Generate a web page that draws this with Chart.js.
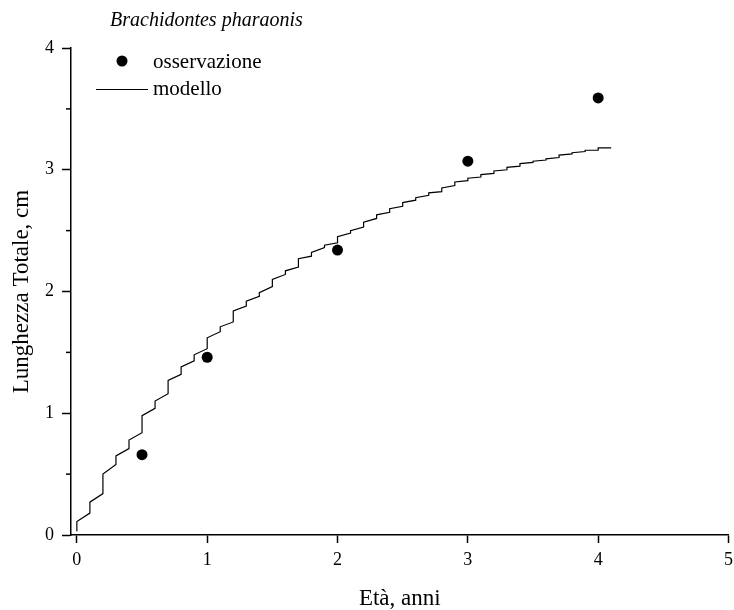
<!DOCTYPE html>
<html><head><meta charset="utf-8">
<script src="https://cdn.jsdelivr.net/npm/chart.js@4"></script>
<style>html,body{margin:0;padding:0;background:#fff}canvas{display:block}</style>
</head><body><canvas id="c" width="734" height="610"></canvas>
<script>
const chartTitle = 'Brachidontes pharaonis';
const xTitle = 'Età, anni';
const yTitle = 'Lunghezza Totale, cm';
const obsLabel = 'osservazione';
const modelLabel = 'modello';

const obsAge = [0.5, 1, 2, 3, 4];
const obsLength = [0.66, 1.46, 2.34, 3.07, 3.59];

const modelAge = [0,0, 0.1,0.1, 0.2,0.2, 0.3,0.3, 0.4,0.4, 0.5,0.5, 0.6,0.6, 0.7,0.7, 0.8,0.8, 0.9,0.9,
  1.0,1.0, 1.1,1.1, 1.2,1.2, 1.3,1.3, 1.4,1.4, 1.5,1.5, 1.6,1.6, 1.7,1.7, 1.8,1.8, 1.9,1.9,
  2.0,2.0, 2.1,2.1, 2.2,2.2, 2.3,2.3, 2.4,2.4, 2.5,2.5, 2.6,2.6, 2.7,2.7, 2.8,2.8, 2.9,2.9,
  3.0,3.0, 3.1,3.1, 3.2,3.2, 3.3,3.3, 3.4,3.4, 3.5,3.5, 3.6,3.6, 3.7,3.7, 3.8,3.8, 3.9,3.9,
  4.0,4.0, 4.1];
const modelLength = [0.03,0.11, 0.18,0.27, 0.34,0.50, 0.58,0.65, 0.71,0.78, 0.84,0.98, 1.04,1.10, 1.16,1.27, 1.32,1.38, 1.43,1.48,
  1.53,1.62, 1.67,1.71, 1.75,1.84, 1.88,1.92, 1.96,1.99, 2.04,2.10, 2.14,2.17, 2.20,2.27, 2.29,2.32, 2.36,2.38,
  2.40,2.45, 2.48,2.50, 2.53,2.57, 2.60,2.63, 2.65,2.68, 2.70,2.73, 2.75,2.77, 2.79,2.81, 2.82,2.85, 2.87,2.90,
  2.91,2.93, 2.94,2.96, 2.97,2.99, 3.00,3.02, 3.03,3.05, 3.06,3.07, 3.08,3.09, 3.10,3.12, 3.13,3.14, 3.15,3.16,
  3.16,3.18, 3.18];

const xTicks = [0, 1, 2, 3, 4, 5];
const yTicks = [0, 1, 2, 3, 4];
const yMinorTicks = [0.5, 1.5, 2.5, 3.5];

const FONT = '"Liberation Serif", "Times New Roman", serif';

const decor = {
  id: 'decor',
  afterDraw(chart) {
    const {ctx, chartArea} = chart;
    const y = chart.scales.y;
    ctx.save();
    ctx.strokeStyle = '#000';
    ctx.fillStyle = '#000';
    ctx.lineWidth = 1.5;
    yMinorTicks.forEach(v => {
      const py = y.getPixelForValue(v);
      ctx.beginPath();
      ctx.moveTo(chartArea.left - 5, py);
      ctx.lineTo(chartArea.left, py);
      ctx.stroke();
    });
    ctx.textAlign = 'left';
    ctx.textBaseline = 'middle';
    ctx.font = 'italic 20px ' + FONT;
    ctx.fillText(chartTitle, 110, 21);
    const ds = chart.data.datasets;
    ctx.font = '21px ' + FONT;
    ctx.beginPath();
    ctx.arc(122, 61, 5.5, 0, Math.PI * 2);
    ctx.fill();
    ctx.fillText(ds[0].label, 153, 62);
    ctx.lineWidth = 1;
    ctx.beginPath();
    ctx.moveTo(96, 89.5);
    ctx.lineTo(148, 89.5);
    ctx.stroke();
    ctx.fillText(ds[1].label, 153, 89);
    ctx.restore();
  }
};

new Chart(document.getElementById('c'), {
  type: 'scatter',
  data: {
    datasets: [
      {
        label: obsLabel,
        data: obsAge.map((a, i) => ({x: a, y: obsLength[i]})),
        showLine: false,
        pointRadius: 5.5,
        pointBackgroundColor: '#000',
        pointBorderColor: '#000',
        pointBorderWidth: 0
      },
      {
        label: modelLabel,
        data: modelAge.map((a, i) => ({x: a, y: modelLength[i]})),
        showLine: true,
        pointRadius: 0,
        borderColor: '#000',
        borderWidth: 1.2,
        tension: 0
      }
    ]
  },
  options: {
    responsive: false,
    animation: false,
    devicePixelRatio: 1,
    layout: {padding: {top: 48, right: 2, left: 0, bottom: 0}},
    plugins: {legend: {display: false}, tooltip: {enabled: false}, title: {display: false}},
    scales: {
      x: {
        type: 'linear',
        min: -0.045,
        max: 5,
        afterBuildTicks: s => { s.ticks = xTicks.map(v => ({value: v})); },
        afterFit: s => { s.height = 75; s.paddingRight = 0; },
        grid: {drawOnChartArea: false, drawTicks: true, tickLength: 8, tickColor: '#000', tickWidth: 1.5},
        border: {display: true, color: '#000', width: 1.5},
        ticks: {color: '#000', font: {family: FONT, size: 18}, padding: 6, maxRotation: 0},
        title: {display: true, text: xTitle, color: '#000', font: {family: FONT, size: 23, lineHeight: 1}, padding: {top: 0, bottom: 0}}
      },
      y: {
        type: 'linear',
        min: 0,
        max: 4,
        afterBuildTicks: s => { s.ticks = yTicks.map(v => ({value: v})); },
        afterFit: s => { s.width = 71; },
        grid: {drawOnChartArea: false, drawTicks: true, tickLength: 9, tickColor: '#000', tickWidth: 1.5},
        border: {display: true, color: '#000', width: 1.5},
        ticks: {color: '#000', font: {family: FONT, size: 18}, padding: 8},
        title: {display: true, text: yTitle, color: '#000', font: {family: FONT, size: 23, lineHeight: 1}, padding: {top: 10, bottom: 0}}
      }
    }
  },
  plugins: [decor]
});
</script>
</body></html>
